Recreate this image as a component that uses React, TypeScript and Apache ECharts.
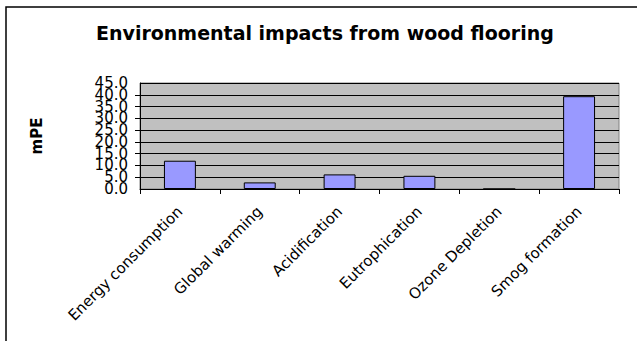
import React, { useEffect, useRef } from "react";
import * as echarts from "echarts";

const categories = [
  "Energy consumption",
  "Global warming",
  "Acidification",
  "Eutrophication",
  "Ozone Depletion",
  "Smog formation",
];
const values = [12.0, 2.8, 6.2, 5.6, 0.0, 39.4];
const yTicks = { min: 0, max: 45, interval: 5 };

const labelStyle = {
  margin: 12,
  fontFamily: "DejaVu Sans",
  fontSize: 15,
  color: "#000",
  formatter: (v: number) => v.toFixed(1),
};

export default function App() {
  const ref = useRef<HTMLDivElement>(null);
  useEffect(() => {
    const chart = echarts.init(ref.current!, null, { renderer: "svg" });
    chart.setOption({
      animation: false,
      backgroundColor: "#ffffff",
      title: {
        text: "Environmental impacts from wood flooring",
        left: 91,
        top: 18,
        textStyle: { fontFamily: "DejaVu Sans", fontWeight: "bold", fontSize: 19, color: "#000" },
      },
      graphic: [
        {
          type: "rect",
          shape: { x: 6, y: 7, width: 700, height: 400 },
          style: { fill: "none", stroke: "#000", lineWidth: 1.5 },
          silent: true,
        },
      ],
      grid: {
        left: 140,
        right: 18,
        top: 83,
        bottom: 152,
        show: true,
        backgroundColor: "#c0c0c0",
        borderColor: "#808080",
        borderWidth: 1,
      },
      xAxis: {
        type: "category",
        data: categories,
        boundaryGap: true,
        axisLine: { lineStyle: { color: "#000", width: 1 } },
        axisTick: { show: true, length: 5, lineStyle: { color: "#000" } },
        axisLabel: {
          rotate: 45,
          interval: 0,
          margin: 20,
          fontFamily: "DejaVu Sans",
          fontSize: 15,
          color: "#000",
        },
      },
      yAxis: [
        {
          type: "value",
          position: "left",
          min: yTicks.min,
          max: yTicks.max,
          interval: yTicks.interval,
          name: "mPE",
          nameLocation: "middle",
          nameGap: 96,
          nameTextStyle: { fontFamily: "DejaVu Sans", fontWeight: "bold", fontSize: 15, color: "#000" },
          axisLine: { show: true, lineStyle: { color: "#000" } },
          axisTick: { show: true, length: 5, lineStyle: { color: "#000" } },
          axisLabel: { ...labelStyle, showMinLabel: false, showMaxLabel: false },
          splitLine: { show: true, lineStyle: { color: "#000", width: 1 } },
        },
        {
          type: "value",
          position: "left",
          offset: 0,
          min: yTicks.min,
          max: yTicks.max,
          interval: yTicks.max - yTicks.min,
          axisLine: { show: false },
          axisTick: { show: false },
          splitLine: { show: false },
          axisLabel: { ...labelStyle, showMinLabel: true, showMaxLabel: true },
        },
      ],
      series: [
        {
          type: "bar",
          data: values,
          barWidth: "40%",
          itemStyle: { color: "#9999ff", borderColor: "#000", borderWidth: 1 },
        },
      ],
    });
    return () => chart.dispose();
  }, []);
  return (
    <div
      ref={ref}
      style={{ position: "fixed", left: 0, top: 0, width: 637, height: 341 }}
    />
  );
}
